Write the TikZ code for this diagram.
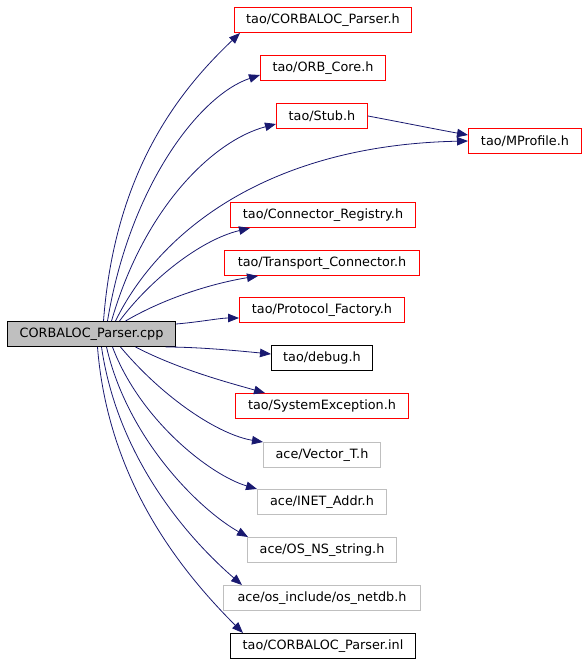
\documentclass[tikz,border=0pt]{standalone}
\usepackage{fontspec}
\setmainfont{DejaVu Sans}
\usetikzlibrary{arrows.meta}
\definecolor{edge_blue}{RGB}{25, 25, 112}
\definecolor{box_red}{RGB}{255, 0, 0}
\definecolor{box_gray}{RGB}{191, 191, 191}
\definecolor{fill_gray}{RGB}{191, 191, 191}

\begin{document}
\begin{tikzpicture}[x=1pt, y=-1pt,
  file/.style={rectangle, line width=1pt, inner xsep=0pt, minimum height=25pt,
    font=\fontsize{12.8}{15}\selectfont},
  blackfile/.style={file, draw=black},
  redfile/.style={file, draw=box_red},
  grayfile/.style={file, draw=box_gray},
  dep/.style={draw=edge_blue, line width=0.8pt, -{Triangle[length=11pt, width=8.5pt, fill=edge_blue]}}]
\useasboundingbox (0, 0) rectangle (587, 664);

\node[blackfile, fill=fill_gray, minimum width=168pt] (src) at (91.5, 334) {CORBALOC\_Parser.cpp};

\node[redfile, minimum width=177pt] (cph) at (323, 20) {tao/CORBALOC\_Parser.h};
\node[redfile, minimum width=125pt] (orb) at (323, 68) {tao/ORB\_Core.h};
\node[redfile, minimum width=91pt] (stub) at (322, 116) {tao/Stub.h};
\node[redfile, minimum width=113pt] (mprof) at (525, 141) {tao/MProfile.h};
\node[redfile, minimum width=185pt] (creg) at (323, 215) {tao/Connector\_Registry.h};
\node[redfile, minimum width=195pt] (tcon) at (322, 263) {tao/Transport\_Connector.h};
\node[redfile, minimum width=165pt] (pfac) at (322, 310) {tao/Protocol\_Factory.h};
\node[blackfile, minimum width=101pt] (dbg) at (322, 358) {tao/debug.h};
\node[redfile, minimum width=173pt] (sexc) at (322, 406) {tao/SystemException.h};
\node[grayfile, minimum width=117pt] (vec) at (322, 455) {ace/Vector\_T.h};
\node[grayfile, minimum width=129pt] (inet) at (322, 502) {ace/INET\_Addr.h};
\node[grayfile, minimum width=149pt] (osns) at (322, 550) {ace/OS\_NS\_string.h};
\node[grayfile, minimum width=197pt] (netdb) at (322, 598) {ace/os\_include/os\_netdb.h};
\node[blackfile, minimum width=185pt] (inl) at (323, 646) {tao/CORBALOC\_Parser.inl};

% upward fan
\draw[dep] ([xshift=12pt]src.north) .. controls (115, 170) and (180, 90) .. ([xshift=6pt]cph.south west);
\draw[dep] ([xshift=16pt]src.north) .. controls (130, 185) and (200, 95) .. ([yshift=-7pt]orb.west);
\draw[dep] ([xshift=20pt]src.north) .. controls (145, 205) and (215, 140) .. ([yshift=-8pt]stub.west);
\draw[dep] ([xshift=24pt]src.north) .. controls (160, 230) and (270, 145) .. (mprof.west);
\draw[dep] ([xshift=28pt]src.north) .. controls (150, 280) and (200, 240) .. ([xshift=20pt]creg.south west);
\draw[dep] ([xshift=34pt]src.north) .. controls (170, 295) and (220, 282) .. ([xshift=34pt]tcon.south west);
\draw[dep] ([yshift=10pt]src.east) .. controls (200, 322) and (220, 318) .. ([yshift=-8pt]pfac.west);
\draw[dep] ([xshift=74pt]src.south) .. controls (200, 347) and (240, 351) .. ([yshift=4pt]dbg.west);

% downward fan
\draw[dep] ([xshift=44pt]src.south) .. controls (180, 370) and (230, 383) .. ([xshift=30pt]sexc.north west);
\draw[dep] ([xshift=29pt]src.south) .. controls (165, 400) and (220, 435) .. (vec.north west);
\draw[dep] ([xshift=21pt]src.south) .. controls (140, 420) and (210, 475) .. (inet.north west);
\draw[dep] ([xshift=15pt]src.south) .. controls (128, 440) and (200, 510) .. ([xshift=1pt]osns.north west);
\draw[dep] ([xshift=10pt]src.south) .. controls (118, 460) and (190, 540) .. ([xshift=19pt]netdb.north west);
\draw[dep] ([xshift=6pt]src.south) .. controls (108, 480) and (180, 570) .. ([xshift=13pt]inl.north west);

\draw[dep] (stub.east) .. controls (400, 122) and (440, 130) .. ([yshift=6pt]mprof.west);
\end{tikzpicture}
\end{document}
